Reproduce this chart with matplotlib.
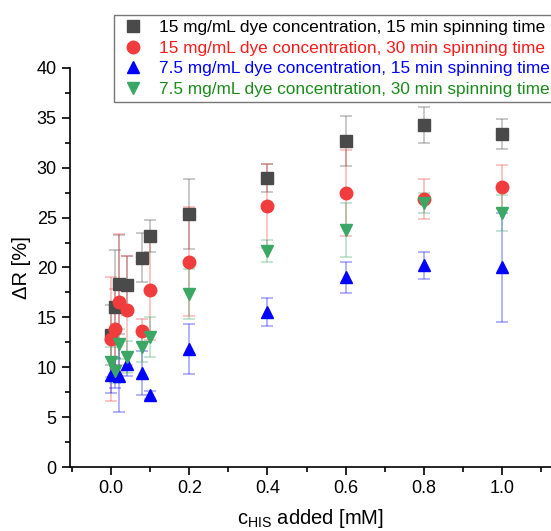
import numpy as np
import matplotlib.pyplot as plt
from matplotlib.ticker import MultipleLocator

plt.rcParams['font.family'] = ['Liberation Sans', 'DejaVu Sans']

conc = [0.0, 0.01, 0.02, 0.04, 0.08, 0.1, 0.2, 0.4, 0.6, 0.8, 1.0]

labels = ["15 mg/mL dye concentration, 15 min spinning time",
          "15 mg/mL dye concentration, 30 min spinning time",
          "7.5 mg/mL dye concentration, 15 min spinning time",
          "7.5 mg/mL dye concentration, 30 min spinning time"]

dr_15_15 = [13.2, 16.0, 18.3, 18.2, 21.0, 23.2, 25.4, 29.0, 32.7, 34.3, 33.4]
err_15_15 = [3.0, 5.8, 5.0, 3.0, 2.5, 1.6, 3.5, 1.4, 2.5, 1.8, 1.5]

dr_15_30 = [12.8, 13.8, 16.5, 15.7, 13.6, 17.7, 20.6, 26.2, 27.5, 26.9, 28.1]
err_15_30 = [6.2, 4.0, 6.9, 5.5, 1.2, 5.0, 5.5, 4.2, 4.3, 2.0, 2.2]

dr_75_15 = [9.2, 9.4, 9.1, 10.3, 9.4, 7.2, 11.8, 15.5, 19.0, 20.2, 20.0]
err_75_15 = [1.8, 1.5, 3.6, 1.2, 2.2, 0.4, 2.5, 1.4, 1.6, 1.4, 5.5]

dr_75_30 = [10.5, 9.6, 12.3, 11.0, 12.0, 13.0, 17.3, 21.7, 23.8, 26.5, 25.5]
err_75_30 = [1.5, 1.2, 1.5, 1.6, 1.5, 2.0, 2.5, 1.1, 2.7, 1.0, 1.8]

series = [dr_15_15, dr_15_30, dr_75_15, dr_75_30]
errors = [err_15_15, err_15_30, err_75_15, err_75_30]
markers = ['s', 'o', '^', 'v']
msizes = [8, 9, 9, 9]
mcolors = ['#4a4a4a', '#f03c3c', '#0000ff', '#3aa864']
tcolors = ['black', '#ff1a1a', '#0000ff', '#1a8c1a']

fig = plt.figure(figsize=(5.51, 5.31), dpi=100)
ax = fig.add_axes([0.127, 0.1205, 0.873, 0.7515])

handles = []
for y, e, m, ms, c, lab in zip(series, errors, markers, msizes, mcolors, labels):
    ax.errorbar(conc, y, yerr=e, fmt='none', ecolor=c, alpha=0.35,
                elinewidth=1.2, capsize=4, capthick=1.2, zorder=2)
    h, = ax.plot(conc, y, linestyle='none', marker=m, markersize=ms,
                 color=c, label=lab, zorder=3)
    handles.append(h)

ax.set_xlim(-0.105, 1.125)
ax.set_ylim(0, 40)
ax.xaxis.set_major_locator(MultipleLocator(0.2))
ax.xaxis.set_minor_locator(MultipleLocator(0.1))
ax.yaxis.set_major_locator(MultipleLocator(5))
ax.yaxis.set_minor_locator(MultipleLocator(2.5))
ax.xaxis.set_major_formatter(plt.FuncFormatter(lambda v, p: f"{v:.1f}"))
ax.tick_params(which='major', direction='out', length=6, width=1.2, labelsize=13)
ax.tick_params(which='minor', direction='out', length=3.5, width=1.2)
for s in ['top', 'right']:
    ax.spines[s].set_visible(False)
for s in ['left', 'bottom']:
    ax.spines[s].set_linewidth(1.2)

ax.set_ylabel("ΔR [%]", fontsize=14.5)
ax.set_xlabel("c$_{\\mathregular{HIS}}$ added [mM]", fontsize=14.5, labelpad=7)

leg = fig.legend(handles=handles, loc='upper left',
                 bbox_to_anchor=(114 / 551, 1 - 15 / 531), borderaxespad=0,
                 fontsize=12.4, frameon=True, fancybox=False,
                 edgecolor='#555555', handletextpad=0.7, borderpad=0.3,
                 labelspacing=0.32, handlelength=1.6)
leg.get_frame().set_linewidth(1.0)
for t, c in zip(leg.get_texts(), tcolors):
    t.set_color(c)

fig.savefig("out.png", dpi=100)
